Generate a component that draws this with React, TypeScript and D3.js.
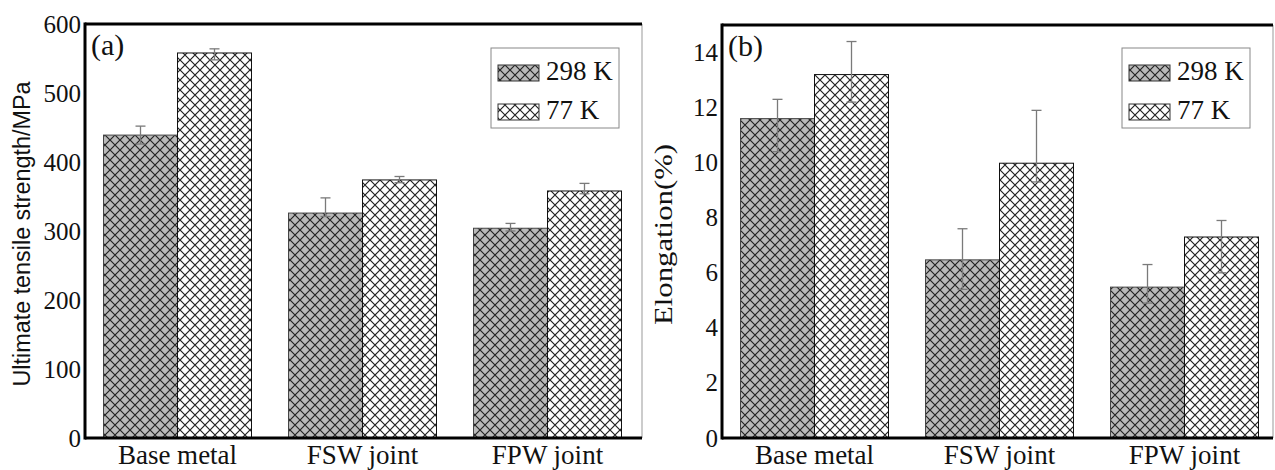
import React from "react";
import * as d3 from "d3";

const categories = ["Base metal", "FSW joint", "FPW joint"];
const seriesNames = ["298 K", "77 K"];

const uts298 = [439, 326, 304];
const uts77 = [558, 374, 358];
const utsLow298 = [426, 321, 300];
const utsHigh298 = [452, 348, 311];
const utsLow77 = [548, 370, 354];
const utsHigh77 = [564, 379, 369];
const utsTicks = [0, 100, 200, 300, 400, 500, 600];

const el298 = [11.6, 6.47, 5.48];
const el77 = [13.2, 9.98, 7.3];
const elLow298 = [10.4, 5.4, 4.9];
const elHigh298 = [12.3, 7.6, 6.3];
const elLow77 = [12.2, 9.3, 6.0];
const elHigh77 = [14.4, 11.9, 7.9];
const elTicks = [0, 2, 4, 6, 8, 10, 12, 14];

const SERIF = "'Liberation Serif', 'DejaVu Serif', serif";
const SANS = "'Liberation Sans', Arial, sans-serif";

type PanelProps = {
  left: number;
  rangeRight: number;
  borderRight: number;
  top: number;
  bottom: number;
  yMax: number;
  ticks: number[];
  values: number[][];
  lows: number[][];
  highs: number[][];
  label: string;
  yLabel: string;
  yLabelFont: string;
  yLabelSize: number;
  yLabelX: number;
  yLabelLength?: number;
};

function Panel(p: PanelProps) {
  const x = d3
    .scaleBand<string>()
    .domain(categories)
    .range([p.left, p.rangeRight])
    .paddingInner(0.2)
    .paddingOuter(0.1);
  const xs = d3.scaleBand<string>().domain(seriesNames).range([0, x.bandwidth()]);
  const y = d3.scaleLinear().domain([0, p.yMax]).range([p.bottom, p.top]);
  const fills = ["url(#hatchGray)", "url(#hatchWhite)"];
  const strokes = ["#444", "#111"];
  const legX = p.borderRight - 151;
  const legY = 48;
  return (
    <g>
      {categories.map((c, ci) =>
        seriesNames.map((s, si) => {
          const v = p.values[si][ci];
          return (
            <rect
              key={c + s}
              x={(x(c) as number) + (xs(s) as number)}
              y={y(v)}
              width={xs.bandwidth()}
              height={y(0) - y(v)}
              fill={fills[si]}
              stroke={strokes[si]}
              strokeWidth={1}
            />
          );
        })
      )}
      {categories.map((c, ci) =>
        seriesNames.map((s, si) => {
          const cx = (x(c) as number) + (xs(s) as number) + xs.bandwidth() / 2;
          const lo = y(p.lows[si][ci]);
          const hi = y(p.highs[si][ci]);
          return (
            <g key={"e" + c + s} stroke="#7a7a7a" strokeWidth={1.3}>
              <line x1={cx} x2={cx} y1={lo} y2={hi} />
              <line x1={cx - 5} x2={cx + 5} y1={hi} y2={hi} />
              <line x1={cx - 5} x2={cx + 5} y1={lo} y2={lo} />
            </g>
          );
        })
      )}
      <line x1={p.borderRight} x2={p.borderRight} y1={p.top} y2={p.bottom} stroke="#999" strokeWidth={1} />
      <line x1={p.left} x2={p.borderRight} y1={p.top} y2={p.top} stroke="#000" strokeWidth={3} />
      <line x1={p.left} x2={p.borderRight} y1={p.bottom} y2={p.bottom} stroke="#000" strokeWidth={3} />
      <line x1={p.left} x2={p.left} y1={p.top - 1.5} y2={p.bottom + 1.5} stroke="#000" strokeWidth={3} />
      {p.ticks.map((t) => (
        <text
          key={"t" + t}
          x={p.left - 4}
          y={y(t)}
          dy="0.34em"
          textAnchor="end"
          fontFamily={SERIF}
          fontSize={25}
          fill="#111"
        >
          {t}
        </text>
      ))}
      {categories.map((c) => (
        <text
          key={"c" + c}
          x={(x(c) as number) + x.bandwidth() / 2}
          y={p.bottom + 26}
          textAnchor="middle"
          fontFamily={SERIF}
          fontSize={27}
          fill="#111"
        >
          {c}
        </text>
      ))}
      <text x={p.left + 6} y={p.top + 31} fontFamily={SERIF} fontSize={30} fill="#111">
        {p.label}
      </text>
      <text
        transform={`translate(${p.yLabelX},${(p.top + p.bottom) / 2 + 3}) rotate(-90)`}
        textAnchor="middle"
        fontFamily={p.yLabelFont}
        fontSize={p.yLabelSize}
        fill="#111"
        textLength={p.yLabelLength}
        lengthAdjust="spacingAndGlyphs"
      >
        {p.yLabel}
      </text>
      <rect x={legX} y={legY} width={128} height={80} fill="#fff" stroke="#888" strokeWidth={1} />
      {seriesNames.map((s, si) => (
        <g key={"l" + s}>
          <rect
            x={legX + 7}
            y={legY + 17 + si * 39}
            width={41}
            height={16}
            fill={fills[si]}
            stroke="#333"
            strokeWidth={1}
          />
          <text
            x={legX + 55}
            y={legY + 32 + si * 39}
            fontFamily={SERIF}
            fontSize={27}
            fill="#111"
          >
            {s}
          </text>
        </g>
      ))}
    </g>
  );
}

export default function App() {
  return (
    <svg
      width={1275}
      height={470}
      viewBox="0 0 1275 470"
      style={{ position: "absolute", left: 0, top: 0, background: "#fff" }}
    >
      <defs>
        <pattern id="hatchGray" patternUnits="userSpaceOnUse" width={10} height={10}>
          <rect width={10} height={10} fill="#b9b9b9" />
          <path d="M0,0L10,10M10,0L0,10" stroke="#222" strokeWidth={1.2} />
        </pattern>
        <pattern id="hatchWhite" patternUnits="userSpaceOnUse" width={10} height={10}>
          <rect width={10} height={10} fill="#fff" />
          <path d="M0,0L10,10M10,0L0,10" stroke="#222" strokeWidth={1.2} />
        </pattern>
      </defs>
      <Panel
        left={85}
        rangeRight={640}
        borderRight={642}
        top={24}
        bottom={438}
        yMax={600}
        ticks={utsTicks}
        values={[uts298, uts77]}
        lows={[utsLow298, utsLow77]}
        highs={[utsHigh298, utsHigh77]}
        label="(a)"
        yLabel="Ultimate tensile strength/MPa"
        yLabelFont={SANS}
        yLabelSize={23}
        yLabelX={30}
        yLabelLength={305}
      />
      <Panel
        left={722}
        rangeRight={1277}
        borderRight={1273}
        top={25}
        bottom={438}
        yMax={15}
        ticks={elTicks}
        values={[el298, el77]}
        lows={[elLow298, elLow77]}
        highs={[elHigh298, elHigh77]}
        label="(b)"
        yLabel="Elongation(%)"
        yLabelFont={SERIF}
        yLabelSize={26}
        yLabelX={672}
        yLabelLength={181}
      />
    </svg>
  );
}
